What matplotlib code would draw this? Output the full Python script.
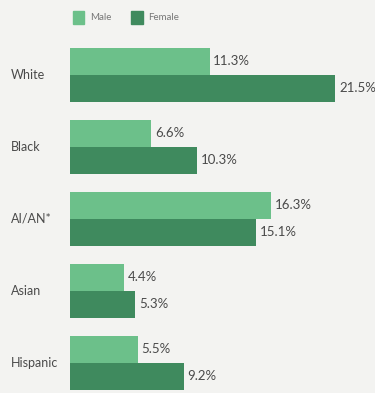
import numpy as np
import matplotlib.pyplot as plt
from matplotlib.patches import Patch

groups = ['White', 'Black', 'AI/AN*', 'Asian', 'Hispanic']
male = [11.3, 6.6, 16.3, 4.4, 5.5]
female = [21.5, 10.3, 15.1, 5.3, 9.2]

c_male = '#6cc08a'
c_female = '#3f8a5e'
bg = '#f3f3f1'
txt = '#4a4a4a'

plt.rcParams['font.family'] = ['Lato', 'DejaVu Sans']

fig = plt.figure(figsize=(3.75, 3.93), dpi=100, facecolor=bg)
ax = fig.add_axes([70 / 375, 0, 305 / 375, 353 / 393])
ax.set_facecolor(bg)

y = np.arange(len(groups))
h = 0.375
ax.barh(y - h / 2, male, height=h, color=c_male)
ax.barh(y + h / 2, female, height=h, color=c_female)

ax.set_xlim(0, 24.7)
ax.set_ylim(4.417, -0.486)
ax.axis('off')

for i in range(len(groups)):
    ax.text(male[i] + 0.3, y[i] - h / 2, f'{male[i]:.1f}%', va='center',
            ha='left', fontsize=9.5, color=txt)
    ax.text(female[i] + 0.3, y[i] + h / 2, f'{female[i]:.1f}%', va='center',
            ha='left', fontsize=9.5, color=txt)
    ax.text(-59 / 305, y[i], groups[i], transform=ax.get_yaxis_transform(),
            va='center', ha='left', fontsize=9, color=txt, clip_on=False)

handles = [Patch(color=c_male, label='Male'), Patch(color=c_female, label='Female')]
fig.legend(handles=handles, loc='upper left', bbox_to_anchor=(64 / 375, 1 - 2 / 393),
           ncol=2, frameon=False, fontsize=7, labelcolor='#777777',
           handlelength=1.2, handleheight=1.7, handletextpad=0.6, columnspacing=2.0)

fig.savefig('out.png', dpi=100, facecolor=bg)
